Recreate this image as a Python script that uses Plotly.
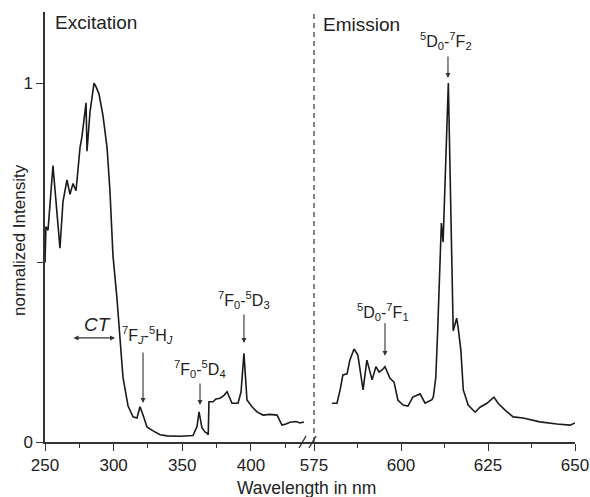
import plotly.graph_objects as go

# Excitation spectrum (nm, normalized intensity)
exc_nm = [250.0, 250.7, 252.2, 255.8, 260.9, 263.1, 266.0, 268.2, 270.4, 272.6, 275.5, 276.9,
          279.9, 280.6, 282.8, 285.7, 287.1, 289.3, 292.2, 295.2, 297.3, 299.5, 302.4, 304.6,
          306.8, 310.5, 314.1, 317.0, 319.2, 321.4, 324.3, 328.7, 333.8, 338.9, 348.3, 357.8,
          360.7, 362.2, 364.3, 366.5, 368.0, 368.9, 369.4, 372.4, 374.5, 377.5, 380.4, 382.6,
          386.2, 390.6, 392.8, 394.9, 397.1, 400.8, 404.4, 408.8, 413.9, 419.0, 422.6, 425.5,
          428.4, 432.8, 435.7, 438.6]
exc_int = [0.50, 0.60, 0.59, 0.77, 0.54, 0.67, 0.73, 0.69, 0.72, 0.70, 0.82, 0.85,
           0.945, 0.81, 0.92, 1.00, 0.99, 0.97, 0.91, 0.82, 0.70, 0.52, 0.40, 0.28,
           0.18, 0.10, 0.07, 0.067, 0.098, 0.075, 0.042, 0.031, 0.02, 0.017, 0.016, 0.018,
           0.043, 0.084, 0.04, 0.028, 0.025, 0.02, 0.112, 0.112, 0.12, 0.122, 0.13, 0.14,
           0.108, 0.108, 0.14, 0.247, 0.117, 0.098, 0.084, 0.075, 0.077, 0.075, 0.047, 0.05,
           0.055, 0.057, 0.053, 0.056]

# Emission spectrum (nm, normalized intensity)
em_nm = [580.2, 581.6, 582.5, 583.3, 584.5, 585.3, 586.5, 587.6, 589.1, 590.2, 591.7, 592.8,
         593.7, 594.5, 595.4, 596.8, 598.0, 599.1, 600.6, 602.0, 603.4, 605.5, 606.9, 608.9,
         609.3, 610.0, 610.5, 611.0, 611.4, 611.6, 612.1, 613.6, 614.6, 615.0, 616.0, 616.4,
         617.2, 617.9, 619.3, 621.3, 622.7, 624.7, 626.7, 627.9, 629.9, 632.2, 635.1, 639.9,
         644.8, 648.6, 650.0]
em_int = [0.108, 0.108, 0.145, 0.187, 0.19, 0.228, 0.259, 0.242, 0.145, 0.228, 0.173, 0.21,
          0.195, 0.20, 0.21, 0.178, 0.167, 0.117, 0.103, 0.10, 0.125, 0.134, 0.108, 0.118,
          0.126, 0.18, 0.30, 0.44, 0.535, 0.61, 0.557, 1.0, 0.507, 0.31, 0.345, 0.32,
          0.256, 0.145, 0.103, 0.083, 0.097, 0.108, 0.125, 0.108, 0.089, 0.07, 0.067, 0.056,
          0.05, 0.047, 0.053]

exc_ticks = [250, 300, 350, 400]
exc_minor = [275, 325, 375, 425]
em_ticks = [575, 600, 625, 650]
em_minor = [587.5, 612.5, 637.5]

FONT = "Liberation Sans, Arial, sans-serif"
TXT = "#222"
AX = "#333"
LINE = "#1a1a1a"

W, H = 590, 497
PX0, PY0 = 45, 442          # pixel of plot-area left / y=0 baseline
L, T = PX0, 12
R, B = 15, H - PY0
pw = W - L - R
ph = H - T - B
split_px = 309
split = (split_px - PX0) / pw
left_end = 250 + (split_px - 45) / 1.373
right_start = 575 - (314 - split_px) / 3.48


def px(xp):
    return (xp - PX0) / pw


def py(yp):
    return (PY0 - yp) / ph


fig = go.Figure()
fig.add_trace(go.Scatter(x=exc_nm, y=exc_int, mode="lines", xaxis="x", yaxis="y",
                         line=dict(color=LINE, width=1.6), showlegend=False))
fig.add_trace(go.Scatter(x=em_nm, y=em_int, mode="lines", xaxis="x2", yaxis="y",
                         line=dict(color=LINE, width=1.6), showlegend=False))

axcommon = dict(showline=True, linecolor=AX, linewidth=1.5, ticks="outside", ticklen=7,
                tickwidth=1.3, tickcolor=AX, showgrid=False, zeroline=False, automargin=False,
                tickfont=dict(size=17, color=TXT, family=FONT))

fig.update_layout(
    width=W, height=H, margin=dict(l=L, r=R, t=T, b=B, autoexpand=False),
    paper_bgcolor="white", plot_bgcolor="white",
    font=dict(family=FONT, color=TXT),
    xaxis=dict(domain=[0, split], range=[250, left_end], tickvals=exc_ticks,
               minor=dict(tickvals=exc_minor, ticklen=4, ticks="outside", tickcolor=AX, tickwidth=1.3),
               anchor="y", **axcommon),
    xaxis2=dict(domain=[split, 1], range=[right_start, 650], tickvals=em_ticks,
                minor=dict(tickvals=em_minor, ticklen=4, ticks="outside", tickcolor=AX, tickwidth=1.3),
                anchor="y", **axcommon),
    yaxis=dict(range=[0, 1.198], tickvals=[0, 1], ticktext=["0", "1"],
               minor=dict(tickvals=[0.5], ticklen=6, ticks="outside", tickcolor=AX, tickwidth=1.3),
               anchor="x", **axcommon),
)

shapes = [
    dict(type="line", xref="x2", yref="paper", x0=575, x1=575, y0=0, y1=1,
         line=dict(color=AX, width=1.2, dash="5px,4px")),
    dict(type="line", xref="paper", yref="paper", xsizemode="pixel", ysizemode="pixel",
         xanchor=split, yanchor=0, x0=-10, x1=-3, y0=-6, y1=6, line=dict(color=AX, width=1.4)),
    dict(type="line", xref="paper", yref="paper", xsizemode="pixel", ysizemode="pixel",
         xanchor=split, yanchor=0, x0=0, x1=7, y0=-6, y1=6, line=dict(color=AX, width=1.4)),
]
fig.update_layout(shapes=shapes)

LBL = dict(size=16, color=TXT, family=FONT)
ann = []
ann.append(dict(text="Excitation", xref="paper", yref="paper", x=px(53), y=py(23),
                xanchor="left", yanchor="middle", showarrow=False, font=dict(size=19, color=TXT, family=FONT)))
ann.append(dict(text="Emission", xref="paper", yref="paper", x=px(321), y=py(25),
                xanchor="left", yanchor="middle", showarrow=False, font=dict(size=19, color=TXT, family=FONT)))
ann.append(dict(text="Wavelength in nm", xref="paper", yref="paper", x=px(306), y=py(488),
                xanchor="center", yanchor="middle", showarrow=False,
                font=dict(size=17.5, color=TXT, family=FONT)))
ann.append(dict(text="normalized Intensity", xref="paper", yref="paper", x=px(20), y=py(240),
                textangle=-90, xanchor="center", yanchor="middle", showarrow=False,
                font=dict(size=17, color=TXT, family=FONT)))
# CT
ann.append(dict(text="<i>CT</i>", xref="x", yref="y", x=287.9, y=0.326, showarrow=False,
                font=dict(size=19, color=TXT, family=FONT)))
ann.append(dict(text="", xref="x", yref="y", x=301.0, y=0.29, ax=269.7, ay=0.29, axref="x", ayref="y",
                showarrow=True, arrowside="end+start", arrowhead=2, arrowsize=0.9, arrowwidth=1.1,
                arrowcolor=AX))
# transition labels
labels = [
    ("x", "<sup>7</sup>F<sub><i>J</i></sub>-<sup>5</sup>H<sub><i>J</i></sub>", 324.3, 0.298, 321.4, 0.109, -52),
    ("x", "<sup>7</sup>F<sub>0</sub>-<sup>5</sup>D<sub>4</sub>", 362.9, 0.203, 362.9, 0.103, -23),
    ("x", "<sup>7</sup>F<sub>0</sub>-<sup>5</sup>D<sub>3</sub>", 394.9, 0.396, 394.9, 0.276, -30),
    ("x2", "<sup>5</sup>D<sub>0</sub>-<sup>7</sup>F<sub>2</sub>", 612.9, 1.117, 613.5, 1.014, -23),
    ("x2", "<sup>5</sup>D<sub>0</sub>-<sup>7</sup>F<sub>1</sub>", 594.8, 0.362, 595.4, 0.24, -34),
]
for xr, t, tx, ty, axx, axy, off in labels:
    ann.append(dict(text=t, xref=xr, yref="y", x=tx, y=ty, showarrow=False, font=LBL))
    ann.append(dict(text="", xref=xr, yref="y", x=axx, y=axy, ax=0, ay=off, showarrow=True,
                    arrowhead=2, arrowsize=0.9, arrowwidth=1.1, arrowcolor=AX))
fig.update_layout(annotations=ann)

# remove the page's default 8px body margin so the figure fills the window exactly
fig.write_html("out.html", config={"displayModeBar": False},
               post_script="document.body.style.margin='0';document.body.style.overflow='hidden';")
